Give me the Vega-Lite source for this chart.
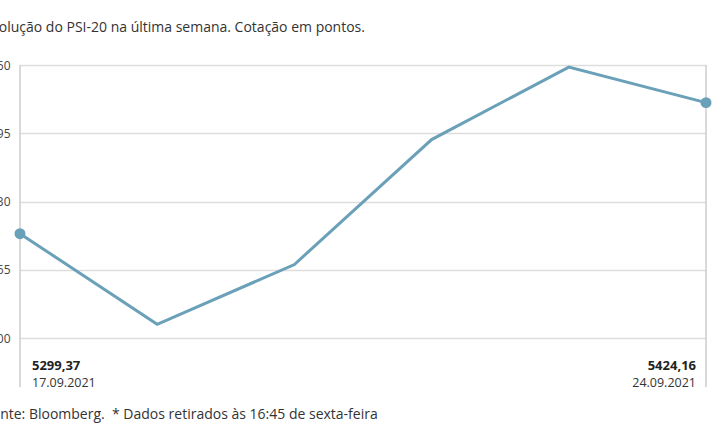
{
  "$schema": "https://vega.github.io/schema/vega-lite/v6.json",
  "width": 686,
  "height": 273,
  "autosize": {"type": "none"},
  "padding": {"left": 20, "top": 65, "right": 9, "bottom": 107},
  "config": {
    "font": "Open Sans",
    "view": {"stroke": null},
    "locale": {"number": {"decimal": ",", "thousands": "", "grouping": [3], "currency": ["", " €"]}}
  },
  "title": {
    "text": "Evolução do PSI-20 na última semana. Cotação em pontos.",
    "anchor": "start",
    "frame": "group",
    "dx": -36,
    "offset": 24,
    "fontSize": 14,
    "fontWeight": "normal",
    "color": "#333333"
  },
  "data": {
    "values": [
      {"date": "17.09.2021", "value": 5299.37},
      {"date": "20.09.2021", "value": 5213},
      {"date": "21.09.2021", "value": 5270},
      {"date": "22.09.2021", "value": 5389},
      {"date": "23.09.2021", "value": 5458},
      {"date": "24.09.2021", "value": 5424.16}
    ]
  },
  "encoding": {
    "x": {
      "field": "date",
      "type": "ordinal",
      "scale": {
        "type": "point",
        "padding": 0,
        "domain": ["17.09.2021", "20.09.2021", "21.09.2021", "22.09.2021", "23.09.2021", "24.09.2021"]
      },
      "axis": {
        "labels": false,
        "ticks": false,
        "domain": false,
        "grid": false,
        "title": "Fonte: Bloomberg.\u00a0 * Dados retirados às 16:45 de sexta-feira",
        "titleAnchor": "start",
        "titleAlign": "left",
        "titleBaseline": "alphabetic",
        "titleX": -36,
        "titleY": 80,
        "titleFontSize": 14,
        "titleFontWeight": "normal",
        "titleColor": "#333333"
      }
    }
  },
  "layer": [
    {
      "transform": [{"filter": "datum.date == '17.09.2021' || datum.date == '24.09.2021'"}],
      "mark": {"type": "rule", "color": "#cccccc", "strokeWidth": 1.5},
      "encoding": {
        "y": {"datum": 5460, "type": "quantitative", "title": null},
        "y2": {"datum": 5153}
      }
    },
    {
      "mark": {"type": "line", "color": "#6aa0b8", "strokeWidth": 3},
      "encoding": {
        "y": {
          "field": "value",
          "type": "quantitative",
          "scale": {"domain": [5200, 5460], "zero": false},
          "axis": {
            "title": null,
            "values": [5200, 5265, 5330, 5395, 5460],
            "format": "d",
            "ticks": false,
            "domain": false,
            "grid": true,
            "gridColor": "#dddddd",
            "gridWidth": 1.5,
            "labelPadding": 10,
            "labelFontSize": 12,
            "labelColor": "#444444"
          }
        }
      }
    },
    {
      "transform": [{"filter": "datum.date == '17.09.2021' || datum.date == '24.09.2021'"}],
      "mark": {"type": "circle", "size": 120, "opacity": 1, "color": "#6aa0b8"},
      "encoding": {"y": {"field": "value", "type": "quantitative"}}
    },
    {
      "transform": [{"filter": "datum.date == '17.09.2021'"}],
      "mark": {"type": "text", "align": "left", "baseline": "alphabetic", "dx": 12, "dy": 32, "fontSize": 13, "fontWeight": "bold", "color": "#222222"},
      "encoding": {"y": {"datum": 5200, "type": "quantitative"}, "text": {"field": "value", "type": "quantitative", "format": ".2f"}}
    },
    {
      "transform": [{"filter": "datum.date == '17.09.2021'"}],
      "mark": {"type": "text", "align": "left", "baseline": "alphabetic", "dx": 12, "dy": 49, "fontSize": 12.5, "color": "#333333"},
      "encoding": {"y": {"datum": 5200, "type": "quantitative"}, "text": {"field": "date", "type": "nominal"}}
    },
    {
      "transform": [{"filter": "datum.date == '24.09.2021'"}],
      "mark": {"type": "text", "align": "right", "baseline": "alphabetic", "dx": -10, "dy": 32, "fontSize": 13, "fontWeight": "bold", "color": "#222222"},
      "encoding": {"y": {"datum": 5200, "type": "quantitative"}, "text": {"field": "value", "type": "quantitative", "format": ".2f"}}
    },
    {
      "transform": [{"filter": "datum.date == '24.09.2021'"}],
      "mark": {"type": "text", "align": "right", "baseline": "alphabetic", "dx": -10, "dy": 49, "fontSize": 12.5, "color": "#333333"},
      "encoding": {"y": {"datum": 5200, "type": "quantitative"}, "text": {"field": "date", "type": "nominal"}}
    }
  ]
}
